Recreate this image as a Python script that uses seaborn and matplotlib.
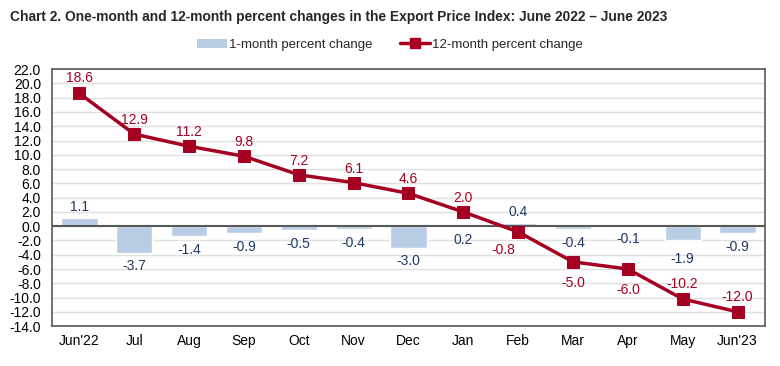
import numpy as np
import pandas as pd
import matplotlib
matplotlib.use("Agg")
import matplotlib.pyplot as plt
from matplotlib.patches import Patch
from matplotlib.lines import Line2D
import seaborn as sns

months = ["Jun'22", "Jul", "Aug", "Sep", "Oct", "Nov", "Dec",
          "Jan", "Feb", "Mar", "Apr", "May", "Jun'23"]
one_month = [1.1, -3.7, -1.4, -0.9, -0.5, -0.4, -3.0, 0.2, 0.4, -0.4, -0.1, -1.9, -0.9]
twelve_month = [18.6, 12.9, 11.2, 9.8, 7.2, 6.1, 4.6, 2.0, -0.8, -5.0, -6.0, -10.2, -12.0]

# label offsets in points (dx, dy)
bar_lab_off = [(0, 8), (0, -10), (0, -10), (0, -10), (0, -10), (0, -10), (0, -10),
               (0, -10), (0, 8), (0, -10), (0, -9), (0, -14), (0, -10)]
line_lab_off = [(0, 11), (0, 10), (0, 10), (0, 10), (0, 10), (0, 10), (0, 10),
                (0, 10), (-11, -13), (0, -15), (0, -15), (0, 11), (0, 11)]

bar_col = "#b9cde5"
line_col = "#a50021"
bar_txt = "#1f3864"

sns.set_theme(style="white")
plt.rcParams['font.family'] = ['Liberation Sans', 'DejaVu Sans']

df = pd.DataFrame({"month": months, "one": one_month, "twelve": twelve_month})

fig = plt.figure(figsize=(7.8, 3.66), dpi=100)
ax = fig.add_axes([0.0667, 0.109, 0.914, 0.702])

sns.barplot(data=df, x="month", y="one", color=bar_col, width=0.66,
            saturation=1, ax=ax, zorder=2)
sns.lineplot(x=np.arange(len(months)), y=df["twelve"], color=line_col,
             linewidth=2.5, marker="s", markersize=8, markeredgecolor=line_col,
             ax=ax, zorder=4)

for i, v in enumerate(one_month):
    dx, dy = bar_lab_off[i]
    ax.annotate(f"{v:.1f}", (i, v if dy > 0 else min(v, 0)), xytext=(dx, dy),
                textcoords="offset points", ha="center", va="center",
                fontsize=10, color=bar_txt)
for i, v in enumerate(twelve_month):
    dx, dy = line_lab_off[i]
    ax.annotate(f"{v:.1f}", (i, v), xytext=(dx, dy), textcoords="offset points",
                ha="center", va="center", fontsize=10, color=line_col)

ax.set_ylim(-14, 22)
ax.set_yticks(np.arange(-14, 23, 2))
ax.set_yticklabels([f"{t:.1f}" for t in np.arange(-14, 23, 2)])
ax.set_xlim(-0.5, len(months) - 0.5)
ax.set_xlabel("")
ax.set_ylabel("")
ax.yaxis.grid(True, color="#e0e0e0", linewidth=1, zorder=0)
ax.set_axisbelow(True)
ax.axhline(0, color="#595959", linewidth=1.5, zorder=3)
ax.tick_params(axis="both", labelsize=10, length=0, colors="black", pad=6)
ax.tick_params(axis="y", pad=8)
for s in ax.spines.values():
    s.set_visible(True)
    s.set_color("#595959")
    s.set_linewidth(1.2)

handles = [Patch(facecolor=bar_col, edgecolor="none", label="1-month percent change"),
           Line2D([0], [0], color=line_col, linewidth=2.5, marker="s", markersize=7,
                  label="12-month percent change")]
fig.legend(handles=handles, loc="center", bbox_to_anchor=(0.5, 0.878), ncol=2,
           frameon=False, fontsize=9.5, handlelength=2.3, columnspacing=2.05,
           handletextpad=0.15)

fig.text(0.013, 0.953, "Chart 2. One-month and 12-month percent changes in the Export Price Index: June 2022 \u2013 June 2023",
         fontsize=9.9, fontweight="bold", ha="left", va="center")

fig.savefig("out.png", dpi=100)
